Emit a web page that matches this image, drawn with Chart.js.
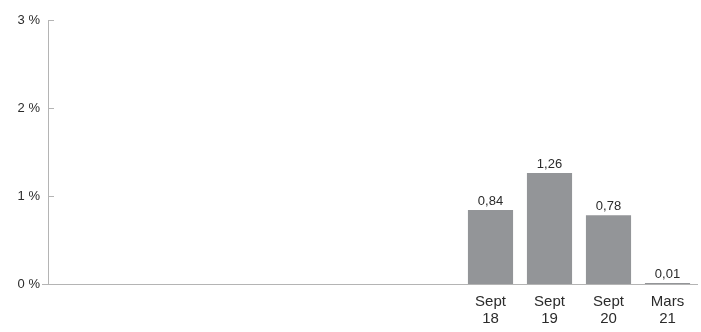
<!DOCTYPE html>
<html>
<head>
<meta charset="utf-8">
<script src="https://cdn.jsdelivr.net/npm/chart.js@4"></script>
<style>
    html, body { margin: 0; padding: 0; background: #fff; }
    #wrap { width: 701px; height: 332px; position: relative; }
</style>
</head>
<body>
<div id="wrap"><canvas id="chart"></canvas></div>
<script>
// Catégories (les premières périodes sont vides)
const categories = [
    '', '', '', '', '', '', '',
    ['Sept', '18'], ['Sept', '19'], ['Sept', '20'], ['Mars', '21']
];
const values = [null, null, null, null, null, null, null, 0.84, 1.26, 0.78, 0.01];
const yTicks = [0, 1, 2, 3];

const colors = {
    bar: '#939598',
    axis: '#b4b4b4',
    text: '#2b2b2b'
};
const fontFamily = '"Liberation Sans", Arial, Helvetica, sans-serif';

// Petits traits de graduation vers l'intérieur + étiquettes de valeur
const extras = {
    id: 'extras',
    afterDatasetsDraw(chart) {
        const ctx = chart.ctx;
        const y = chart.scales.y;
        const left = chart.chartArea.left;
        ctx.save();
        ctx.strokeStyle = colors.axis;
        ctx.lineWidth = 1;
        yTicks.forEach(function(t) {
            const py = Math.round(y.getPixelForValue(t)) + 0.5;
            ctx.beginPath();
            if (t === 0) {
                ctx.moveTo(left - 6, py);
                ctx.lineTo(left, py);
            } else {
                ctx.moveTo(left, py);
                ctx.lineTo(left + 6, py);
            }
            ctx.stroke();
        });

        ctx.fillStyle = colors.text;
        ctx.font = '13px ' + fontFamily;
        ctx.textAlign = 'center';
        ctx.textBaseline = 'bottom';
        const meta = chart.getDatasetMeta(0);
        meta.data.forEach(function(bar, i) {
            const v = values[i];
            if (v === null) return;
            ctx.fillText(v.toFixed(2).replace('.', ','), bar.x, bar.y - 2);
        });
        ctx.restore();
    }
};

new Chart(document.getElementById('chart'), {
    type: 'bar',
    data: {
        labels: categories,
        datasets: [{
            data: values,
            backgroundColor: colors.bar,
            barPercentage: 0.9,
            categoryPercentage: 0.85
        }]
    },
    options: {
        responsive: true,
        maintainAspectRatio: false,
        animation: false,
        layout: {
            padding: { top: 20, right: 4, bottom: 0, left: 0 }
        },
        plugins: {
            legend: { display: false },
            tooltip: { enabled: false }
        },
        scales: {
            x: {
                afterFit: function(scale) { scale.height = 48; },
                grid: { display: false, drawTicks: false },
                border: { display: true, color: colors.axis, width: 1 },
                ticks: {
                    color: colors.text,
                    font: { family: fontFamily, size: 15, lineHeight: 1.1 },
                    padding: 10,
                    maxRotation: 0,
                    autoSkip: false
                }
            },
            y: {
                min: 0,
                max: 3,
                afterFit: function(scale) { scale.width = 48; },
                grid: { display: false, drawTicks: false },
                border: { display: true, color: colors.axis, width: 1 },
                ticks: {
                    stepSize: 1,
                    color: colors.text,
                    font: { family: fontFamily, size: 13 },
                    padding: 8,
                    callback: function(v) { return v + ' %'; }
                }
            }
        }
    },
    plugins: [extras]
});
</script>
</body>
</html>
